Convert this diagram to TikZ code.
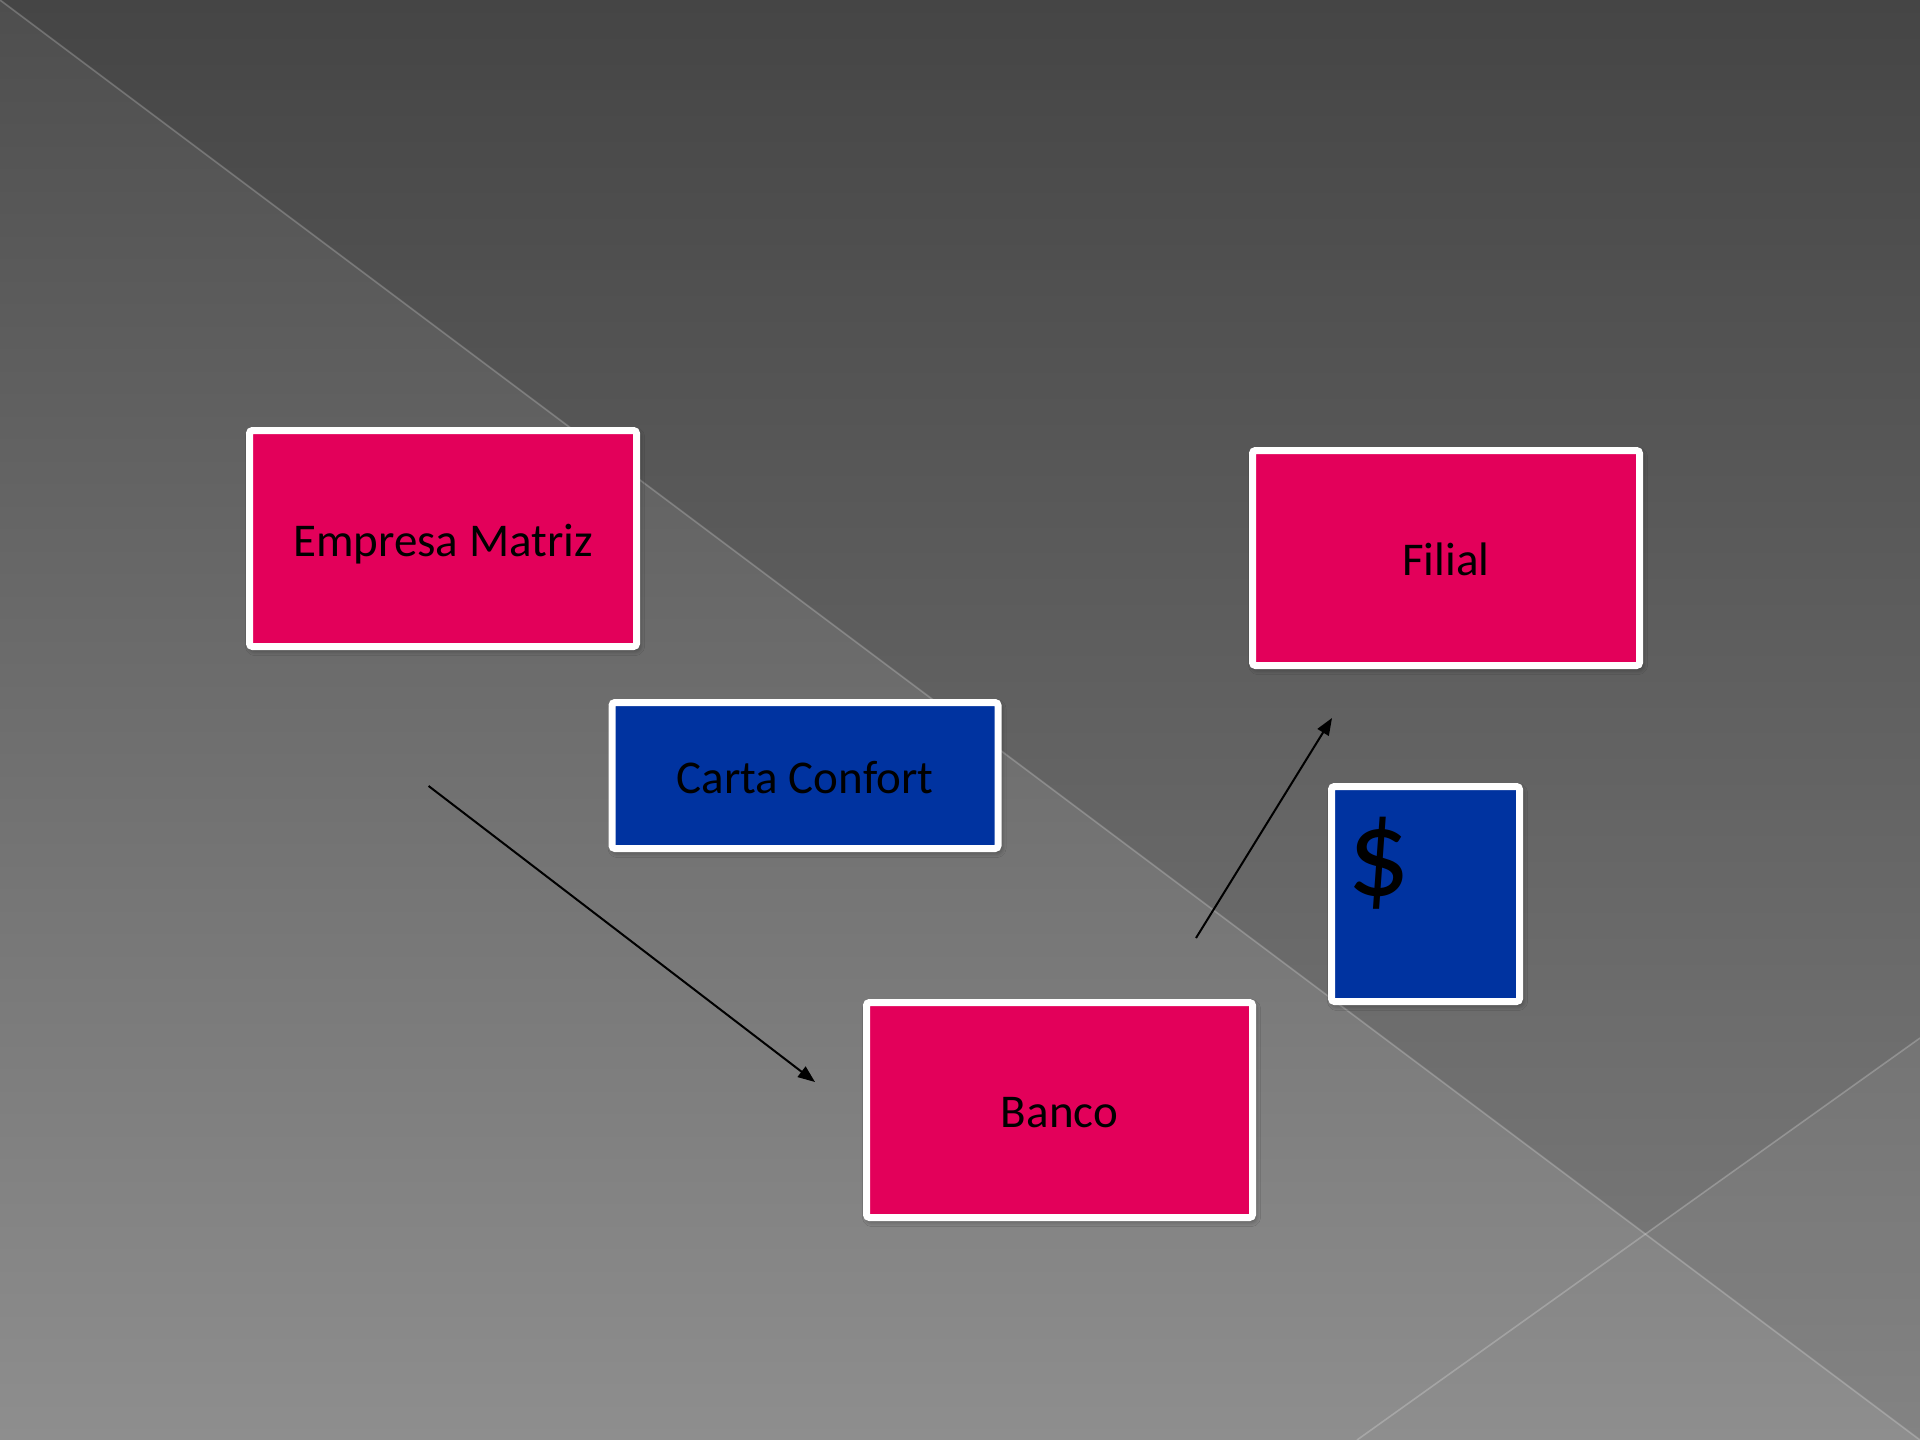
\documentclass[tikz,border=0pt]{standalone}
\usepackage{fontspec}
\setmainfont{Carlito}
\usetikzlibrary{arrows.meta,shadows.blur}
\definecolor{pinkbox}{RGB}{227,0,90}
\definecolor{bluebox}{RGB}{0,51,160}
\definecolor{bgAtop}{RGB}{69,69,69}
\definecolor{bgAbot}{RGB}{125,125,125}
\definecolor{bgBtop}{RGB}{78,78,78}
\definecolor{bgBbot}{RGB}{142,142,142}
\tikzset{
  card/.style={draw=white, line width=7pt, rounded corners=3pt, inner sep=0pt,
    blur shadow={shadow blur steps=8, shadow xshift=2pt, shadow yshift=-3pt, shadow blur radius=6pt, shadow opacity=45},
    font=\fontsize{47}{56}\selectfont, text=black, text height=35pt, text depth=0pt},
  pinkcard/.style={card, fill=pinkbox},
  bluecard/.style={card, fill=bluebox},
  flow/.style={line width=2pt, draw=black, -{Triangle[length=17pt,width=13pt]}},
  bgline/.style={draw=white, draw opacity=0.22, line width=1.6pt}
}
\begin{document}
\begin{tikzpicture}[x=1pt,y=-1pt]
\useasboundingbox (0,0) rectangle (1920,1440);
% background
\shade[top color=bgAtop, bottom color=bgAbot] (0,0) rectangle (1920,1440);
\shade[top color=bgBtop, bottom color=bgBbot] (0,0) -- (1920,1440) -- (0,1440) -- cycle;
\fill[white, opacity=0.05] (1645,1234) -- (1920,1038) -- (1920,1440) -- cycle;
\draw[bgline] (0,0) -- (1920,1440);
\draw[bgline] (1357,1440) -- (1920,1038);
% boxes
\node[pinkcard, minimum width=387pt, minimum height=216pt] (matriz) at (443,538.5) {Empresa Matriz};
\node[bluecard, minimum width=386pt, minimum height=146pt] (carta) at (805,775.5) {Carta Confort};
\node[pinkcard, minimum width=387pt, minimum height=215pt] (filial) at (1446,558) {Filial};
\node[pinkcard, minimum width=386pt, minimum height=215pt] (banco) at (1059.5,1110) {Banco};
\node[bluecard, minimum width=188pt, minimum height=215pt] (dinero) at (1425.5,894) {};
\node[anchor=base west, inner sep=0pt, font=\fontsize{124}{140}\selectfont, text=black] (dollar) at (1347,895.5) {\$};
% arrows
\coordinate (a1s) at (428.6,786);
\coordinate (a1e) at (815,1082);
\coordinate (a2s) at (1196,938);
\coordinate (a2e) at (1332,718);
\draw[flow] (a1s) -- (a1e);
\draw[flow] (a2s) -- (a2e);
\end{tikzpicture}
\end{document}
